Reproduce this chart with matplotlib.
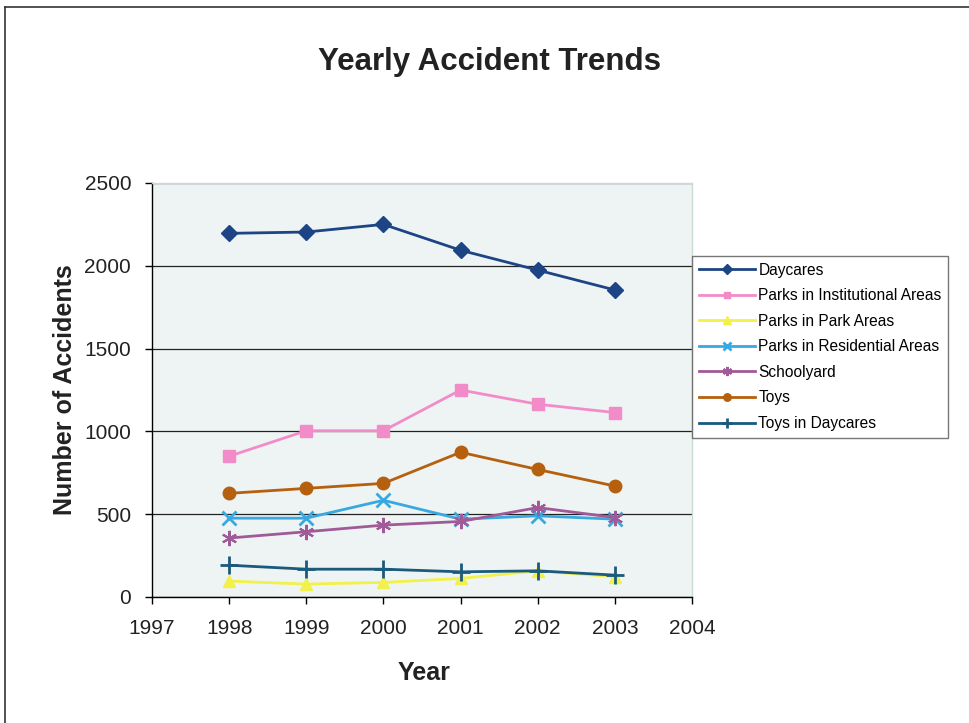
import matplotlib
matplotlib.use("Agg")
import matplotlib.pyplot as plt
from matplotlib.lines import Line2D

plt.rcParams["font.family"] = ["Liberation Sans", "DejaVu Sans"]

years = [1998, 1999, 2000, 2001, 2002, 2003]
daycares = [2196, 2204, 2250, 2094, 1974, 1854]
parks_institutional = [850, 1004, 1004, 1250, 1164, 1114]
parks_park_areas = [96, 78, 88, 112, 158, 122]
parks_residential = [476, 476, 584, 470, 490, 470]
schoolyard = [356, 394, 434, 456, 540, 480]
toys = [626, 656, 686, 874, 770, 670]
toys_daycares = [192, 168, 168, 152, 158, 132]

series_names = [
    "Daycares",
    "Parks in Institutional Areas",
    "Parks in Park Areas",
    "Parks in Residential Areas",
    "Schoolyard",
    "Toys",
    "Toys in Daycares",
]
series_values = [daycares, parks_institutional, parks_park_areas,
                 parks_residential, schoolyard, toys, toys_daycares]
x_ticks = [1997, 1998, 1999, 2000, 2001, 2002, 2003, 2004]
y_ticks = [0, 500, 1000, 1500, 2000, 2500]

styles = [
    dict(color="#1d4484", marker="D", ms=8),
    dict(color="#f28cc8", marker="s", ms=8),
    dict(color="#f2f04a", marker="^", ms=9),
    dict(color="#38a8e0", marker="x", ms=10, mew=2),
    dict(color="#a05a98", marker=(6, 2, 0), ms=11, mew=1.5),
    dict(color="#b5600e", marker="o", ms=9),
    dict(color="#1b5a7c", marker="+", ms=13, mew=2),
]

W, H = 969, 723
fig = plt.figure(figsize=(W / 100, H / 100), dpi=100)
fig.patch.set_facecolor("white")

# outer frame (top and left edges)
fig.add_artist(Line2D([5 / W, 5 / W], [0, 1 - 7 / H], transform=fig.transFigure,
                      color="#333333", lw=1.2))
fig.add_artist(Line2D([5 / W, 1], [1 - 7 / H, 1 - 7 / H], transform=fig.transFigure,
                      color="#333333", lw=1.2))

ax = fig.add_axes([152 / W, 1 - 597 / H, (692 - 152) / W, (597 - 183) / H])
ax.set_facecolor("#eef4f4")

for name, vals, st in zip(series_names, series_values, styles):
    ax.plot(years, vals, label=name, lw=2, color=st["color"], marker=st["marker"],
            markersize=st["ms"], markeredgewidth=st.get("mew", 1),
            markeredgecolor=st["color"], markerfacecolor=st["color"])

ax.set_xlim(1997, 2004)
ax.set_ylim(0, 2500)
ax.set_xticks(x_ticks)
ax.set_xticklabels([str(v) for v in x_ticks])
ax.set_yticks(y_ticks)
ax.set_yticklabels([str(v) for v in y_ticks])
ax.tick_params(axis="both", labelsize=15, length=5, width=1, direction="out",
               colors="black")
ax.tick_params(axis="x", pad=11)
ax.tick_params(axis="y", pad=10)
for lbl in ax.get_xticklabels() + ax.get_yticklabels():
    lbl.set_color("#222222")
ax.yaxis.grid(True, color="#222222", lw=0.9)
ax.set_axisbelow(True)
for s in ["top", "right"]:
    ax.spines[s].set_color("#c8dcd6")
    ax.spines[s].set_linewidth(1)
for s in ["left", "bottom"]:
    ax.spines[s].set_color("black")
    ax.spines[s].set_linewidth(1)

ax.set_xlabel("Year", fontsize=18, fontweight="bold", color="#222222")
ax.set_ylabel("Number of Accidents", fontsize=18, fontweight="bold", color="#222222")
ax.xaxis.set_label_coords((424 - 152) / 540, (597 - 661) / 414)
ax.yaxis.set_label_coords((77 - 152) / 540, 0.5)

fig.text(490 / W, 1 - 62 / H, "Yearly Accident Trends", ha="center", va="center",
         fontsize=22.5, fontweight="bold", color="#222222")

leg = fig.legend(loc="upper left", bbox_to_anchor=(692 / W, 1 - 256 / H),
                 fontsize=11.2, frameon=True, fancybox=False, edgecolor="#555555",
                 handlelength=3.6, handletextpad=0.25, borderpad=0.42,
                 labelspacing=0.68, borderaxespad=0, markerscale=0.6)
leg.get_frame().set_linewidth(1)

fig.savefig("out.png", dpi=100)
